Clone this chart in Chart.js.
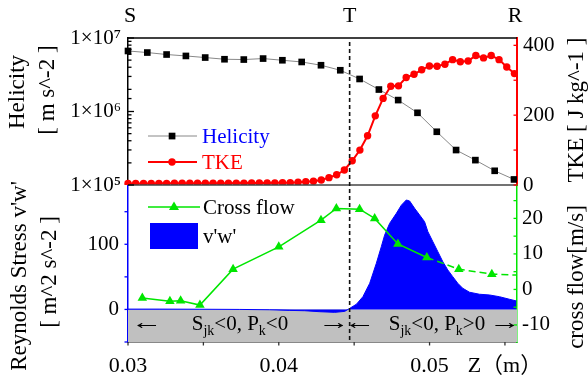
<!DOCTYPE html>
<html>
<head>
<meta charset="UTF-8">
<title>Helicity, TKE, Reynolds stress</title>
<script src="https://cdn.jsdelivr.net/npm/chart.js"></script>
<style>
  html, body { margin: 0; padding: 0; background: #fff; }
</style>
</head>
<body>
<canvas id="c" width="588" height="381"></canvas>
<script>
// ---- data ----
const helicityZ = [0.03, 0.03128, 0.03256, 0.03384, 0.03512, 0.0364, 0.03768, 0.03896, 0.04024, 0.04152,
  0.0428, 0.04408, 0.04536, 0.04664, 0.04792, 0.0492, 0.05048, 0.05176, 0.05304, 0.05432, 0.0556];
const helicity = [6.66e6, 6.34e6, 5.96e6, 5.70e6, 5.42e6, 5.14e6, 5.09e6, 5.25e6, 4.98e6, 4.72e6,
  4.26e6, 3.64e6, 2.77e6, 1.99e6, 1.43e6, 9.6e5, 5.3e5, 2.99e5, 2.18e5, 1.56e5, 1.19e5];

const tkeZ = [0.03, 0.03051, 0.03103, 0.03154, 0.03205, 0.03256, 0.03308, 0.03359, 0.0341, 0.03461,
  0.03513, 0.03564, 0.03615, 0.03666, 0.03718, 0.03769, 0.0382, 0.03871, 0.03923, 0.03974,
  0.04025, 0.04076, 0.04128, 0.04179, 0.0423, 0.04282, 0.04333, 0.04384, 0.04435, 0.04487,
  0.04538, 0.04589, 0.0464, 0.04692, 0.04743, 0.04794, 0.04845, 0.04897, 0.04948, 0.04999,
  0.0505, 0.05102, 0.05153, 0.05204, 0.05256, 0.05307, 0.05358, 0.05409, 0.05461, 0.05512, 0.05563];
const tke = [4.5, 4.5, 4.6, 4.6, 4.7, 4.7, 4.8, 4.8, 4.9, 5.0,
  5.0, 5.1, 5.2, 5.3, 5.4, 5.5, 5.6, 5.8, 6.0, 6.2,
  6.4, 6.6, 7.7, 9.4, 10.6, 14.3, 21, 29.4, 42.9, 69.4,
  100, 141, 198, 248, 283, 284, 308, 317, 330, 341,
  340, 346, 359, 353, 355, 371, 364, 371, 359, 338, 319];

const vwZ = [0.03, 0.03212, 0.03477, 0.03742, 0.0394, 0.04073, 0.04172, 0.04272, 0.04371, 0.04437,
  0.04459, 0.04515, 0.04558, 0.04603, 0.04647, 0.0468, 0.04702, 0.04735, 0.0478, 0.04813,
  0.04846, 0.04868, 0.04901, 0.04934, 0.04967, 0.04989, 0.05022, 0.05055, 0.05088, 0.05121,
  0.05154, 0.05187, 0.0522, 0.05265, 0.05331, 0.05397, 0.05464, 0.0553, 0.05576];
const vw = [0.5, 0.5, 0.3, 0, -0.5, -1.5, -2, -3.5, -4.5, -3,
  0, 8, 19.6, 40, 70.7, 96.3, 114, 132, 147.5, 160,
  168, 166.4, 155.2, 145, 134.7, 119.3, 104, 88.7, 73.3, 60.6,
  50.3, 40.2, 32.5, 26.4, 23.3, 22.2, 19.5, 15.6, 13];

const crossZ = [0.03095, 0.03278, 0.03349, 0.03477, 0.03697, 0.04, 0.0428, 0.04382, 0.04536, 0.04636,
  0.0479, 0.04982, 0.05194, 0.05413, 0.0566];
const cross = [-2.4, -3.3, -3.2, -4.4, 5.7, 12.0, 19.5, 22.8, 22.6, 20.0,
  12.8, 9.0, 5.7, 4.3, 3.9];

const tZ = 0.0447;   // position of the dashed line "T"

const serif = "'Liberation Serif', 'Times New Roman', 'Noto Sans CJK SC', serif";
const BLUE = '#0000ff', RED = '#ff0000', GREEN = '#00e600';
Chart.defaults.font.family = serif;
Chart.defaults.color = '#000';

const sup = {'0':'⁰','1':'¹','2':'²','3':'³','4':'⁴','5':'⁵','6':'⁶','7':'⁷','8':'⁸','9':'⁹'};

function pts(xs, ys) { return xs.map((x, i) => ({x: x, y: ys[i]})); }

function vtext(ctx, text, x, y, size, color) {
  ctx.save();
  ctx.translate(x, y);
  ctx.rotate(-Math.PI / 2);
  ctx.font = size + 'px ' + serif;
  ctx.fillStyle = color || '#000';
  ctx.textAlign = 'center';
  ctx.textBaseline = 'middle';
  ctx.fillText(text, 0, 0);
  ctx.restore();
}

// text with subscripts, centred on cx
function subText(ctx, parts, cx, base, size) {
  const big = size + 'px ' + serif, small = Math.round(size * 0.68) + 'px ' + serif;
  let w = 0;
  parts.forEach(p => { ctx.font = p[1] ? small : big; w += ctx.measureText(p[0]).width; });
  let x = cx - w / 2;
  ctx.textAlign = 'left';
  ctx.textBaseline = 'alphabetic';
  parts.forEach(p => {
    ctx.font = p[1] ? small : big;
    ctx.fillText(p[0], x, p[1] ? base + 5 : base);
    x += ctx.measureText(p[0]).width;
  });
}

// wide arrow glyph
function arrow(ctx, ch, cx, base) {
  ctx.save();
  ctx.translate(cx, base);
  ctx.scale(1.5, 1);
  ctx.font = '21px ' + serif;
  ctx.textAlign = 'center';
  ctx.textBaseline = 'alphabetic';
  ctx.fillText(ch, 0, 0);
  ctx.restore();
}

function marks(ctx, scale, color, dir, isMajor) {
  ctx.save();
  ctx.strokeStyle = color;
  ctx.lineWidth = 1.3;
  scale.ticks.forEach(t => {
    const p = scale.getPixelForValue(t.value);
    const len = isMajor(t.value) ? 6 : 3.5;
    ctx.beginPath();
    if (scale.isHorizontal()) {
      if (p < scale.left - 0.5 || p > scale.right + 0.5) return;
      ctx.moveTo(p, scale.top); ctx.lineTo(p, scale.top + len * dir);
    } else {
      if (p < scale.top - 0.5 || p > scale.bottom + 0.5) return;
      const x0 = scale.position === 'left' ? scale.right : scale.left;
      ctx.moveTo(x0, p); ctx.lineTo(x0 + len * dir, p);
    }
    ctx.stroke();
  });
  ctx.restore();
}

const extras = {
  id: 'extras',
  beforeDatasetsDraw(chart) {
    const {ctx, chartArea: a, scales: {yR}} = chart;
    const y0 = yR.getPixelForValue(0), y1 = yR.getPixelForValue(-50);
    ctx.save();
    ctx.fillStyle = '#c0c0c0';
    ctx.fillRect(a.left, y0, a.right - a.left, y1 - y0);
    ctx.restore();
  },
  beforeDatasetDraw(chart, args) {
    const m = args.meta, ctx = chart.ctx;
    const padL = m.yScale.id === 'yH' || m.yScale.id === 'yT' ? 5 : 0;
    ctx.save();
    ctx.beginPath();
    ctx.rect(m.xScale.left - padL, m.yScale.top, m.xScale.right - m.xScale.left + padL, m.yScale.bottom - m.yScale.top);
    ctx.clip();
  },
  afterDatasetDraw(chart) {
    chart.ctx.restore();
  },
  afterDatasetsDraw(chart) {
    const {ctx, chartArea: a, scales: {x, yH, yR, yT, yC}} = chart;
    ctx.save();
    // frame top and panel separator
    ctx.lineWidth = 1.5;
    ctx.strokeStyle = '#000';
    ctx.beginPath(); ctx.moveTo(a.left, a.top); ctx.lineTo(a.right, a.top); ctx.stroke();
    ctx.strokeStyle = '#444';
    ctx.beginPath(); ctx.moveTo(a.left, yH.bottom); ctx.lineTo(a.right, yH.bottom); ctx.stroke();
    // dashed T line
    const tx = x.getPixelForValue(tZ);
    ctx.strokeStyle = '#111';
    ctx.lineWidth = 1.6;
    ctx.setLineDash([4, 3]);
    ctx.beginPath(); ctx.moveTo(tx, a.top + 4); ctx.lineTo(tx, a.bottom); ctx.stroke();
    ctx.setLineDash([]);
    ctx.restore();

    const logMajor = v => Math.abs(Math.log10(v) - Math.round(Math.log10(v))) < 1e-6;
    marks(ctx, yH, '#000', 1, logMajor);
    marks(ctx, yR, BLUE, -1, () => false);
    marks(ctx, yT, RED, -1, () => false);
    marks(ctx, yC, GREEN, -1, () => false);
    marks(ctx, x, '#333', 1, () => false);
  },
  afterDraw(chart) {
    const {ctx, scales: {x, yR}} = chart;
    ctx.save();
    ctx.fillStyle = '#000';
    // S T R labels on top
    ctx.font = '22px ' + serif;
    ctx.textAlign = 'center';
    ctx.textBaseline = 'middle';
    ctx.fillText('S', 130, 16);
    ctx.fillText('T', x.getPixelForValue(tZ), 16);
    ctx.fillText('R', 515, 16);

    // axis titles
    vtext(ctx, 'Helicity', 18, 92, 23);
    vtext(ctx, '[ m s^-2 ]', 48, 90, 23);
    vtext(ctx, "Reynolds Stress v'w'", 20, 276, 23);
    vtext(ctx, '[ m^2 s^-2 ]', 50, 272, 23);
    vtext(ctx, 'TKE [ J kg^-1 ]', 577, 110, 23);
    vtext(ctx, 'cross flow[m/s]', 577, 277, 23);

    // legend, top panel
    ctx.lineWidth = 1;
    ctx.strokeStyle = '#888';
    ctx.beginPath(); ctx.moveTo(148, 136); ctx.lineTo(197, 136); ctx.stroke();
    ctx.fillStyle = '#000';
    ctx.fillRect(168.7, 132.7, 6.7, 6.7);
    ctx.lineWidth = 2.2;
    ctx.strokeStyle = RED;
    ctx.beginPath(); ctx.moveTo(148, 162); ctx.lineTo(197, 162); ctx.stroke();
    ctx.fillStyle = RED;
    ctx.beginPath(); ctx.arc(172, 162, 3.7, 0, Math.PI * 2); ctx.fill();
    ctx.font = '21px ' + serif;
    ctx.textAlign = 'left';
    ctx.textBaseline = 'middle';
    ctx.fillStyle = BLUE;
    ctx.fillText('Helicity', 202, 137);
    ctx.fillStyle = RED;
    ctx.fillText('TKE', 202, 163);

    // legend, bottom panel
    ctx.lineWidth = 1.5;
    ctx.strokeStyle = GREEN;
    ctx.beginPath(); ctx.moveTo(148, 207); ctx.lineTo(200, 207); ctx.stroke();
    ctx.fillStyle = GREEN;
    ctx.beginPath(); ctx.moveTo(174, 201.5); ctx.lineTo(179, 210); ctx.lineTo(169, 210); ctx.closePath(); ctx.fill();
    ctx.fillStyle = BLUE;
    ctx.fillRect(150, 223, 48, 26);
    ctx.fillStyle = '#000';
    ctx.fillText('Cross flow', 203, 208);
    ctx.fillText("v'w'", 203, 237);

    // annotations in the grey band
    const base = yR.getPixelForValue(-32);
    arrow(ctx, '←', 147, base - 1);
    arrow(ctx, '→', 334, base - 1);
    arrow(ctx, '←', 360, base - 1);
    arrow(ctx, '→', 505, base - 1);
    subText(ctx, [['S', 0], ['jk', 1], ['<0, P', 0], ['k', 1], ['<0', 0]], 240, base, 21);
    subText(ctx, [['S', 0], ['jk', 1], ['<0, P', 0], ['k', 1], ['>0', 0]], 437, base, 21);
    ctx.restore();
  }
};

const tickFont = {size: 21, family: serif};

new Chart(document.getElementById('c'), {
  type: 'line',
  data: {
    datasets: [
      {
        label: 'Cross flow', data: pts(crossZ, cross), xAxisID: 'x', yAxisID: 'yC',
        borderColor: GREEN, backgroundColor: GREEN, borderWidth: 1.5,
        pointStyle: 'triangle', pointRadius: cross.map((v, i) => i === cross.length - 1 ? 0 : 5.5),
        pointBorderWidth: 0, clip: false,
        segment: { borderDash: c => c.p0DataIndex >= 11 ? [7, 4] : undefined }
      },
      {
        label: 'TKE', data: pts(tkeZ, tke), xAxisID: 'x', yAxisID: 'yT',
        borderColor: RED, backgroundColor: RED, borderWidth: 2,
        pointStyle: 'circle', pointRadius: 3.7, pointBorderWidth: 0, clip: false
      },
      {
        label: 'Helicity', data: pts(helicityZ, helicity), xAxisID: 'x', yAxisID: 'yH',
        borderColor: '#888', backgroundColor: '#000', borderWidth: 1,
        pointStyle: 'rect', pointRadius: 4.7, pointBorderWidth: 0, clip: false
      },
      {
        label: "v'w'", data: pts(vwZ, vw), xAxisID: 'x', yAxisID: 'yR',
        borderColor: BLUE, backgroundColor: BLUE, borderWidth: 1,
        pointRadius: 0, fill: 'origin', clip: false
      }
    ]
  },
  options: {
    responsive: false,
    animation: false,
    layout: { padding: { top: 38, left: 0, right: 0, bottom: 0 } },
    plugins: { legend: { display: false }, tooltip: { enabled: false } },
    scales: {
      x: {
        type: 'linear', position: 'bottom', min: 0.03, max: 0.0558,
        afterFit: s => { s.height = 39; },
        grid: { display: false, drawTicks: false },
        border: { color: '#888', width: 1 },
        ticks: {
          stepSize: 0.005, includeBounds: false, autoSkip: false, maxRotation: 0, padding: 11,
          font: {size: 22, family: serif},
          callback: v => {
            const k = Math.round(v * 1000);
            if (k === 55) return 'Z（m）';
            return k % 10 === 0 ? (k / 1000).toFixed(2) : '';
          }
        }
      },
      yH: {
        type: 'logarithmic', position: 'left', stack: 'left', stackWeight: 147, weight: 2,
        min: 1e5, max: 1e7,
        afterFit: s => { s.width = 128; },
        grid: { display: false, drawTicks: false },
        border: { color: '#000', width: 1.5 },
        ticks: {
          autoSkip: false, padding: 7, font: tickFont,
          callback: v => {
            const e = Math.log10(v);
            if (Math.abs(e - Math.round(e)) > 1e-6) return '';
            return '1×10' + String(Math.round(e)).split('').map(d => sup[d]).join('');
          }
        }
      },
      yR: {
        type: 'linear', position: 'left', stack: 'left', stackWeight: 157, weight: 1,
        min: -50, max: 191,
        afterFit: s => { s.width = 128; },
        grid: { display: false, drawTicks: false },
        border: { color: BLUE, width: 1.5 },
        ticks: {
          stepSize: 50, includeBounds: false, autoSkip: false, padding: 9, font: tickFont,
          callback: v => (v === 0 || v === 100) ? String(v) : ''
        }
      },
      yT: {
        type: 'linear', position: 'right', stack: 'right', stackWeight: 147, weight: 1,
        min: 0, max: 421,
        afterFit: s => { s.width = 71; },
        grid: { display: false, drawTicks: false },
        border: { color: RED, width: 2 },
        ticks: {
          stepSize: 100, includeBounds: false, autoSkip: false, padding: 6, font: tickFont,
          callback: v => v % 200 === 0 ? String(v) : ''
        }
      },
      yC: {
        type: 'linear', position: 'right', stack: 'right', stackWeight: 157, weight: 2,
        min: -14.8, max: 29.4,
        afterFit: s => { s.width = 71; },
        grid: { display: false, drawTicks: false },
        border: { color: GREEN, width: 1.5 },
        ticks: {
          stepSize: 5, includeBounds: false, autoSkip: false, padding: 5, font: tickFont,
          callback: v => Math.round(v) % 10 === 0 ? String(Math.round(v)) : ''
        }
      }
    }
  },
  plugins: [extras]
});
</script>
</body>
</html>
